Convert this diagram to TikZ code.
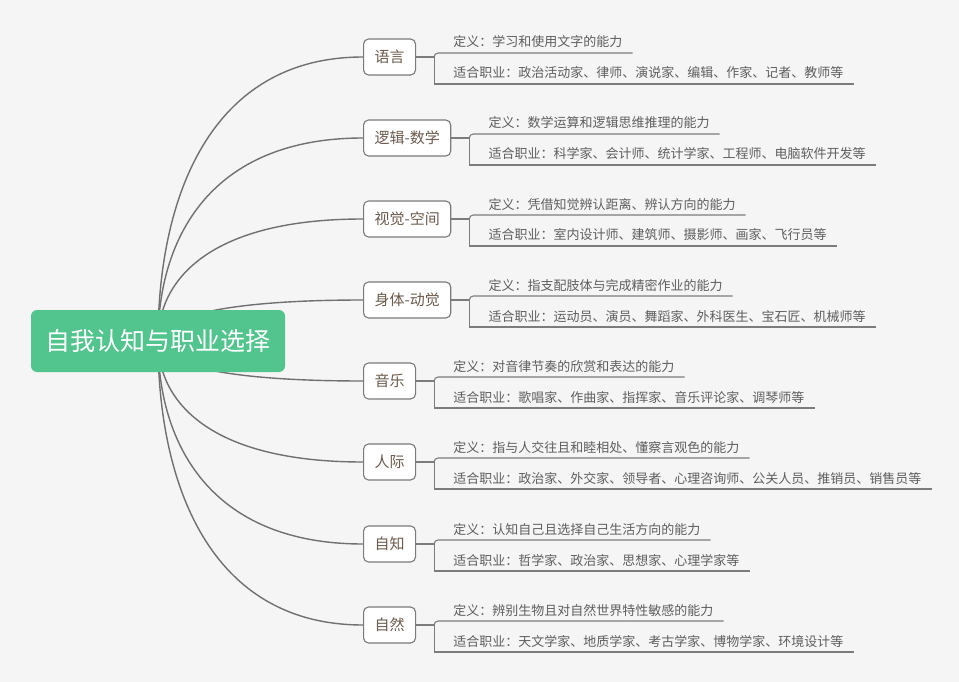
\documentclass[tikz,border=0pt]{standalone}
\usepackage{fontspec}
\setmainfont{Noto Sans CJK SC}
\usetikzlibrary{calc}
\definecolor{bgc}{HTML}{F5F5F5}
\definecolor{linec}{HTML}{707070}
\definecolor{ulinec}{HTML}{7C7C7C}
\definecolor{rootc}{HTML}{52C48D}
\definecolor{topictext}{HTML}{6B5A4B}
\definecolor{leaftext}{HTML}{5E5E5E}
\definecolor{borderc}{HTML}{7A7A7A}
\pgfdeclarelayer{bg}
\pgfsetlayers{bg,main}
\tikzset{
 rootbox/.style={fill=rootc, rounded corners=6pt, minimum width=254pt, minimum height=62pt, text=white, font=\fontsize{25}{30}\selectfont, inner sep=0pt},
 topic/.style={draw=borderc, line width=1.1pt, fill=white, rounded corners=5pt, minimum height=36pt, inner xsep=11pt, inner ysep=0pt, text=topictext, font=\fontsize{15}{18}\selectfont, anchor=west},
 leaf/.style={inner sep=0pt, text=leaftext, font=\fontsize{13}{15}\selectfont, anchor=base west},
 conn/.style={draw=linec, line width=1.4pt},
 uline/.style={draw=ulinec, line width=1.1pt},
}
\newcommand\mybranch[5]{%
 \node[topic] (#1) at (363,#2) {#3};
 \coordinate (#1b) at ($(#1.east)+(18,0)$);
 \node[leaf] (#1d) at ($(#1b)+(19,-10)$) {#4};
 \node[leaf] (#1j) at ($(#1b)+(19,21)$) {#5};
 \coordinate (#1dt) at ($(#1b)+(0,-4)$);
 \coordinate (#1jb) at ($(#1b)+(0,27)$);
 \coordinate (#1de) at ($(#1d.east |- #1dt)+(10,0)$);
 \coordinate (#1je) at ($(#1j.east |- #1jb)+(10,0)$);
 \draw[uline] (#1.east) -- (#1b);
 \draw[uline, rounded corners=4pt] (#1de) -- (#1dt) -- (#1b);
 \draw[uline] (#1b) -- (#1jb) -- (#1je);
 \begin{pgfonlayer}{bg}
 \draw[conn] (root.center) .. controls ($(root.center)!0.5!(root.center |- #1.west)$) and ($(#1.west)!0.75!(root.center |- #1.west)$) .. (#1.west);
 \end{pgfonlayer}
}
\begin{document}
\begin{tikzpicture}[x=1pt,y=-1pt]
\begin{pgfonlayer}{bg}
\fill[bgc] (0,0) rectangle (959,682);
\end{pgfonlayer}
\useasboundingbox (0,0) rectangle (959,682);
\node[rootbox] (root) at (158,341) {自我认知与职业选择};
\mybranch{n1}{57}{语言}{定义：学习和使用文字的能力}{适合职业：政治活动家、律师、演说家、编辑、作家、记者、教师等}
\mybranch{n2}{138}{逻辑-数学}{定义：数学运算和逻辑思维推理的能力}{适合职业：科学家、会计师、统计学家、工程师、电脑软件开发等}
\mybranch{n3}{219}{视觉-空间}{定义：凭借知觉辨认距离、辨认方向的能力}{适合职业：室内设计师、建筑师、摄影师、画家、飞行员等}
\mybranch{n4}{300}{身体-动觉}{定义：指支配肢体与完成精密作业的能力}{适合职业：运动员、演员、舞蹈家、外科医生、宝石匠、机械师等}
\mybranch{n5}{381}{音乐}{定义：对音律节奏的欣赏和表达的能力}{适合职业：歌唱家、作曲家、指挥家、音乐评论家、调琴师等}
\mybranch{n6}{462}{人际}{定义：指与人交往且和睦相处、懂察言观色的能力}{适合职业：政治家、外交家、领导者、心理咨询师、公关人员、推销员、销售员等}
\mybranch{n7}{544}{自知}{定义：认知自己且选择自己生活方向的能力}{适合职业：哲学家、政治家、思想家、心理学家等}
\mybranch{n8}{625}{自然}{定义：辨别生物且对自然世界特性敏感的能力}{适合职业：天文学家、地质学家、考古学家、博物学家、环境设计等}
\end{tikzpicture}
\end{document}
